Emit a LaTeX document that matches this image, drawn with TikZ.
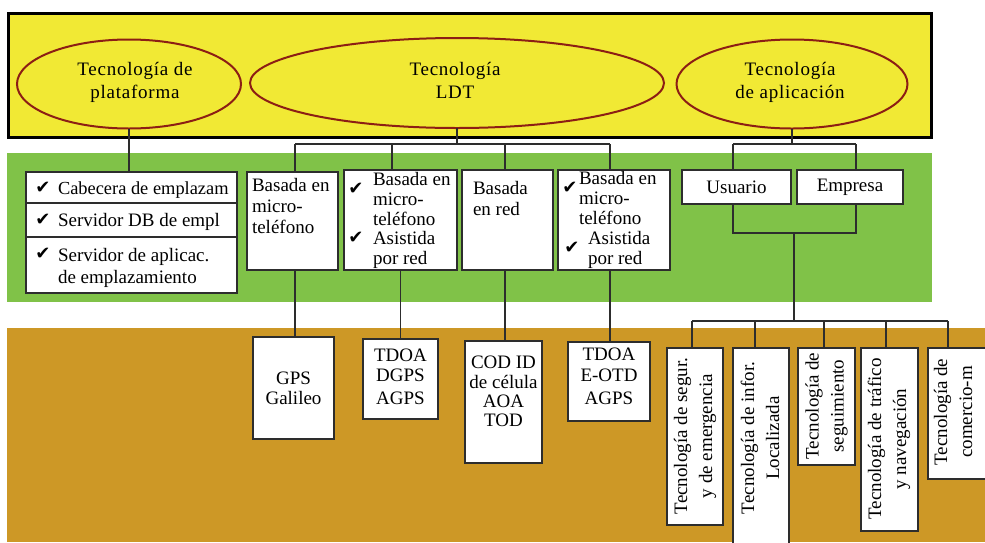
\documentclass[tikz,border=0pt]{standalone}
\usepackage{fontspec}
\setmainfont{Liberation Serif}
\newfontfamily\spacedfont[LetterSpace=4]{Liberation Serif}
\newfontfamily\tickfont{DejaVu Sans}
\usetikzlibrary{shapes.geometric}
\definecolor{bandyellow}{RGB}{241,233,52}
\definecolor{bandgreen}{RGB}{128,194,72}
\definecolor{bandbrown}{RGB}{205,152,38}
\definecolor{ellred}{RGB}{140,30,20}
\definecolor{linec}{RGB}{45,45,45}

\begin{document}
\begin{tikzpicture}[x=1pt,y=-1pt,
  every node/.style={font=\fontsize{19}{22}\selectfont, inner sep=0pt, outer sep=0pt},
  tech/.style={ellipse, draw=ellred, line width=2pt, fill=bandyellow},
  techtxt/.style={align=center, font=\spacedfont\fontsize{19}{23}\selectfont},
  box/.style={draw=linec, fill=white, line width=1.3pt, anchor=north west, align=center},
  conn/.style={draw=linec, line width=1.3pt},
  % multi-line text: the base anchor sits on the last line
  txt/.style={anchor=base west, align=left},
  ctxt/.style={anchor=base, align=center},
  vtxt/.style={rotate=90, align=center, font=\fontsize{19}{25}\selectfont},
  tick/.style={font=\tickfont\fontsize{18}{18}\selectfont}
]
\useasboundingbox (0,0) rectangle (985,542);
\fill[white] (0,0) rectangle (985,542);

% background bands
\fill[bandgreen] (7,153) rectangle (932,302);
\fill[bandbrown] (7,328) rectangle (985,542);
\filldraw[fill=bandyellow, draw=black, line width=3pt] (8,13) rectangle (931,137);

% technology ellipses
\node[tech, minimum width=224, minimum height=89] (plat) at (129,84) {};
\node[tech, minimum width=414, minimum height=90] (ldt) at (457,83) {};
\node[tech, minimum width=231, minimum height=89] (app) at (792,84) {};
\node[techtxt] (platt) at (135,82) {Tecnología de\\plataforma};
\node[techtxt] (ldtt) at (455,80) {Tecnología\\LDT};
\node[techtxt] (appt) at (790,82) {Tecnología\\de aplicación};

% platform list
\node[box, minimum width=211, minimum height=31] (row1) at (26,172) {};
\node[box, minimum width=211, minimum height=34] (row2) at (26,203) {};
\node[box, minimum width=211, minimum height=56] (row3) at (26,237) {};
\node[tick] (tk1) at (43,188) {✔};
\node[txt, font=\fontsize{18.4}{22}\selectfont] (row1t) at (58,194) {Cabecera de emplazam};
\node[tick] (tk2) at (43,220) {✔};
\node[txt] (row2t) at (58,226) {Servidor DB de empl};
\node[tick] (tk3) at (43,254) {✔};
\node[txt] (row3t) at (58,283) {Servidor de aplicac.\\de emplazamiento};

% LDT boxes
\node[box, minimum width=91, minimum height=98] (b1) at (247,172) {};
\node[txt, font=\fontsize{19}{21}\selectfont] (b1t) at (252,233) {Basada en\\micro-\\teléfono};

\node[box, minimum width=113, minimum height=100] (b2) at (344,170) {};
\node[tick] (tk4) at (356,189) {✔};
\node[tick] (tk5) at (356,238) {✔};
\node[txt] (b2t) at (373,264) {Basada en\\[-2pt]micro-\\[-2pt]teléfono\\[-3pt]Asistida\\[-2pt]por red};

\node[box, minimum width=91, minimum height=100] (b3) at (462,170) {};
\node[txt, font=\fontsize{19}{21}\selectfont] (b3t) at (473,215) {Basada\\en red};

\node[box, minimum width=112, minimum height=100] (b4) at (558,170) {};
\node[txt] (b4t) at (579,224) {Basada en\\[-2pt]micro-\\[-2pt]teléfono};
\node[txt, font=\fontsize{19}{20}\selectfont] (b4u) at (588,264) {Asistida\\por red};
\node[tick] (tk6) at (570,188) {✔};
\node[tick] (tk7) at (572,248) {✔};

% application boxes
\node[box, minimum width=109, minimum height=34] (usu) at (682,170) {Usuario};
\node[box, minimum width=106, minimum height=34] (emp) at (797,170) {Empresa};

% positioning methods
\node[box, minimum width=81, minimum height=102, font=\fontsize{19}{20}\selectfont] (gps) at (253,337) {GPS\\Galileo};
\node[box, minimum width=75, minimum height=80] (tdoa) at (363,339) {};
\node[ctxt] (tdoat) at (400.5,404) {TDOA\\[-2pt]DGPS\\[1pt]AGPS};
\node[box, minimum width=77, minimum height=122] (cod) at (465,341) {};
\node[ctxt] (codt) at (503.5,426) {COD ID\\[-2pt]de célula\\[-3pt]AOA\\[-3pt]TOD};
\node[box, minimum width=82, minimum height=79] (eotd) at (568,342) {};
\node[ctxt] (eotdt) at (609,404) {TDOA\\[-1pt]E-OTD\\[1pt]AGPS};

% application technologies
\node[box, minimum width=56, minimum height=177] (segA) at (667,348) {};
\node[vtxt] (segAt) at (695,436) {Tecnología de segur.\\y de emergencia};
\node[box, minimum width=56, minimum height=220] (infB) at (733,348) {};
\node[vtxt] (infBt) at (760,438) {Tecnología de infor.\\Localizada};
\node[box, minimum width=57, minimum height=117] (segC) at (798,348) {};
\node[vtxt] (segCt) at (826.5,406) {Tecnología de\\seguimiento};
\node[box, minimum width=57, minimum height=183] (trfD) at (861,348) {};
\node[vtxt] (trfDt) at (889,439) {Tecnología de tráfico\\y navegación};
\node[box, minimum width=58, minimum height=131] (comE) at (928,348) {};
\node[vtxt] (comEt) at (953,412) {Tecnología de\\comercio-m};

% connectors: platform
\draw[conn] (plat.south) -- (plat.south |- row1.north);

% connectors: LDT
\coordinate (lj1) at (295,144);
\coordinate (lj2) at (392,144);
\coordinate (lj3) at (505,144);
\coordinate (lj4) at (610,144);
\draw[conn] (ldt.south) -- (ldt.south |- lj1);
\draw[conn] (lj1) -- (lj4);
\draw[conn] (lj1) -- (lj1 |- b1.north);
\draw[conn] (lj2) -- (lj2 |- b2.north);
\draw[conn] (lj3) -- (lj3 |- b3.north);
\draw[conn] (lj4) -- (lj4 |- b4.north);
\draw[conn] (lj1 |- b1.south) -- (lj1 |- gps.north);
\draw[conn] (b2.south) -- (b2.south |- tdoa.north);
\draw[conn] (lj3 |- b3.south) -- (lj3 |- cod.north);
\draw[conn] (lj4 |- b4.south) -- (lj4 |- eotd.north);

% connectors: application
\coordinate (aj1) at (733,144);
\coordinate (aj2) at (856,144);
\coordinate (bj1) at (733,233);
\coordinate (bj2) at (856,233);
\coordinate (mj) at (794,233);
\coordinate (kj) at (794,321);
\draw[conn] (app.south) -- (app.south |- aj1);
\draw[conn] (aj1) -- (aj2);
\draw[conn] (aj1) -- (aj1 |- usu.north);
\draw[conn] (aj2) -- (aj2 |- emp.north);
\draw[conn] (aj1 |- usu.south) -- (bj1) -- (bj2) -- (aj2 |- emp.south);
\draw[conn] (mj) -- (kj);

\coordinate (k1) at (692,321);
\coordinate (k2) at (755,321);
\coordinate (k3) at (824,321);
\coordinate (k4) at (886,321);
\coordinate (k5) at (948,321);
\draw[conn] (k1) -- (k5);
\draw[conn] (k1) -- (k1 |- segA.north);
\draw[conn] (k2) -- (k2 |- infB.north);
\draw[conn] (k3) -- (k3 |- segC.north);
\draw[conn] (k4) -- (k4 |- trfD.north);
\draw[conn] (k5) -- (k5 |- comE.north);
\end{tikzpicture}
\end{document}
